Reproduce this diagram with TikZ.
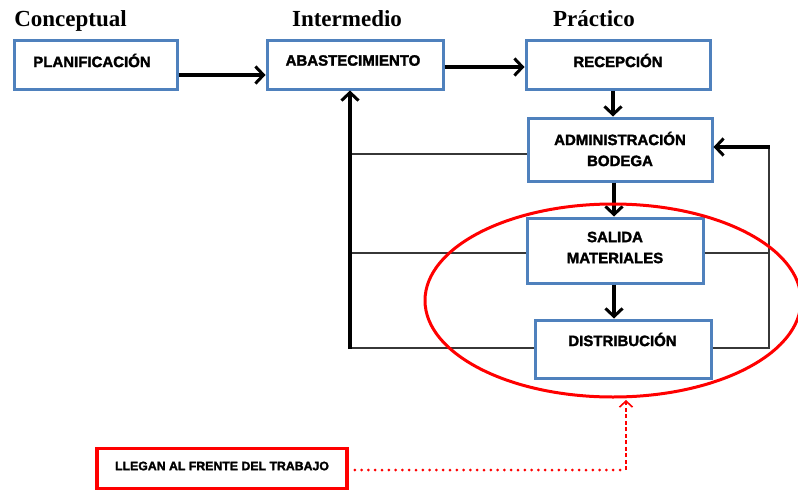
\documentclass[tikz,border=0pt]{standalone}
\usepackage{fontspec}
\setmainfont{Liberation Serif}
\newfontfamily\boxfont{Liberation Sans Bold}[FakeBold=2]
\usetikzlibrary{arrows.meta,shapes.geometric,calc}
\definecolor{boxblue}{RGB}{79,129,189}
\definecolor{linegray}{RGB}{55,55,55}
\begin{document}
\begin{tikzpicture}[x=1pt,y=-1pt,
  blbox/.style={draw=boxblue,line width=3pt,fill=white,minimum width=#1,inner sep=0pt},
  lbl/.style={font=\boxfont\fontsize{15}{21}\selectfont,align=center,inner sep=0pt},
  ttl/.style={font=\bfseries\fontsize{23}{26}\selectfont,anchor=base,inner sep=0pt},
  thickarr/.style={line width=3.6pt,-{Straight Barb[length=8pt,width=17pt,line width=3pt]}},
  thinline/.style={draw=linegray,line width=1.4pt},
  redline/.style={draw=red,line width=3pt}]
\useasboundingbox (0,0) rectangle (798,490);
% titles
\node[ttl] (tconc) at (70.5,26) {Conceptual};
\node[ttl] (tinter) at (347,26) {Intermedio};
\node[ttl] (tprac) at (594,26) {Práctico};
% boxes
\node[blbox=163pt,minimum height=49pt] (plan) at (95.5,64.5) {};
\node[blbox=176pt,minimum height=49pt] (abast) at (355,64.5) {};
\node[blbox=184pt,minimum height=49pt] (recep) at (618,64.5) {};
\node[blbox=184pt,minimum height=63pt] (admin) at (620,149.5) {};
\node[blbox=176pt,minimum height=65pt] (salida) at (615,250.5) {};
\node[blbox=176pt,minimum height=58pt] (dist) at (623,349) {};
% labels
\node[lbl] (lplan) at (92,60.5) {PLANIFICACIÓN};
\node[lbl] (labast) at (353,60.5) {ABASTECIMIENTO};
\node[lbl] (lrecep) at (618,60.5) {RECEPCIÓN};
\node[lbl] (ladmin) at (620,149) {ADMINISTRACIÓN\\BODEGA};
\node[lbl] (lsalida) at (615,247.5) {SALIDA\\MATERIALES};
\node[lbl] (ldist) at (622.5,339.5) {DISTRIBUCIÓN};
% main flow
\draw[thickarr] (plan.east |- 0,75) -- (abast.west |- 0,75);
\draw[thickarr] (abast.east |- 0,67) -- (recep.west |- 0,67);
\draw[thickarr] (recep.south -| 613,0) -- (admin.north -| 613,0);
\draw[thickarr] (admin.south -| 614,0) -- (salida.north -| 614,0);
\draw[thickarr] (salida.south -| 614,0) -- (dist.north -| 614,0);
% left feedback
\coordinate (lb) at (350,348);
\draw[thinline] (admin.west |- 0,154) -- (lb |- 0,154);
\draw[thinline] (salida.west |- 0,253) -- (lb |- 0,253);
\draw[thinline] (dist.west |- lb) -- (lb);
\draw[thickarr] ($(lb)+(0,1)$) -- (lb |- abast.south);
% right feedback
\coordinate (rb) at (769,348);
\coordinate (rt) at (769,147);
\draw[thinline] (salida.east |- 0,253) -- (rb |- 0,253);
\draw[thinline] (dist.east |- rb) -- (rb) -- (rt);
\draw[thickarr] ($(rt)+(0.7,0)$) -- (admin.east |- rt);
% red ellipse
\node[redline,ellipse,minimum width=376pt,minimum height=193pt,inner sep=0pt] (oval) at (613,300.5) {};
% bottom note
\node[redline,line width=3.6pt,minimum width=250pt,minimum height=40pt,inner sep=0pt] (llegan) at (222,468.5) {};
\node[font=\boxfont\fontsize{12.3}{14}\selectfont,inner sep=0pt] (lllegan) at (222,466) {LLEGAN AL FRENTE DEL TRABAJO};
\coordinate (turn) at (626,470);
\draw[red,line width=3pt,line cap=round,dash pattern=on 0pt off 6.8pt] ($(llegan.east |- turn)+(6,0)$) -- (turn);
\draw[red,line width=1.8pt,dash pattern=on 4pt off 2.5pt,-{Straight Barb[length=6pt,width=13pt,line width=1.6pt]}] (turn) -- ($(turn |- oval.south)+(0,1.5)$);
\end{tikzpicture}
\end{document}
